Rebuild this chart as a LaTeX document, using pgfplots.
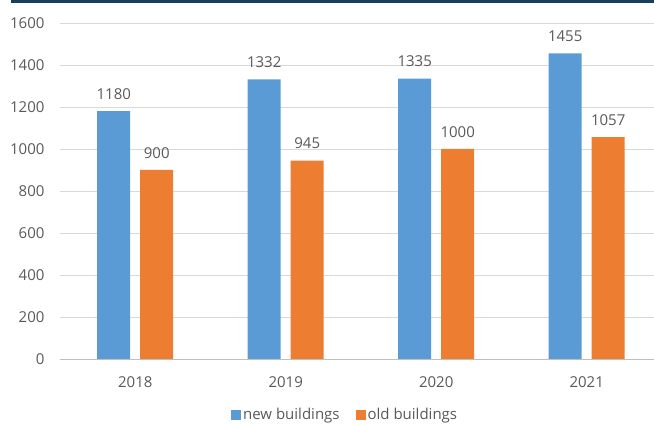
\documentclass[border=0pt]{standalone}
\usepackage{pgfplots}
\pgfplotsset{compat=1.18}
\usepackage{fontspec}
\setmainfont{Open Sans}
\definecolor{cblue}{HTML}{5B9BD5}
\definecolor{corange}{HTML}{ED7D31}
\definecolor{ctext}{HTML}{595959}
\definecolor{cgrid}{HTML}{D9D9D9}
\definecolor{cnavy}{HTML}{173F5F}
\begin{document}
\begin{tikzpicture}
\path[use as bounding box] (0,0) rectangle (654pt,426pt);
\fill[cnavy] (11pt,423pt) rectangle (654pt,426pt);
\begin{axis}[
  at={(60pt,67pt)}, anchor=south west,
  scale only axis, width=594pt, height=336pt,
  ybar=10pt, bar width=33pt,
  ymin=0, ymax=1600, ytick={0,200,...,1600},
  xmin=-0.5, xmax=3.447, xtick={0,1,2,3},
  xticklabels={2018,2019,2020,2021},
  ymajorgrids, grid style={cgrid, line width=0.9pt},
  axis line style={draw=none},
  major tick length=0pt,
  /pgf/number format/assume math mode=true,
  /pgf/number format/1000 sep={},
  ticklabel style={font=\fontsize{15}{17}\selectfont, text=ctext},
  yticklabel style={xshift=-12pt},
  xticklabel style={yshift=-14pt},
  nodes near coords,
  nodes near coords style={font=\fontsize{15}{17}\selectfont, text=ctext, yshift=8pt, /pgf/number format/assume math mode=true},
  legend columns=2,
  legend style={at={(0.48,-0.166)}, anchor=center, draw=none, fill=none,
    font=\fontsize{15}{17}\selectfont, text=ctext,
    /tikz/every even column/.append style={column sep=14pt}},
  legend image code/.code={\fill[#1] (0pt,-5pt) rectangle (10pt,5pt);},
  clip=false,
]
\addplot[fill=cblue, draw=none] coordinates {(0,1180) (1,1332) (2,1335) (3,1455)};
\addplot[fill=corange, draw=none] coordinates {(0,900) (1,945) (2,1000) (3,1057)};
\legend{new buildings, old buildings}
\draw[gray!50, line width=0.9pt] (rel axis cs:0,0) -- (rel axis cs:1,0);
\end{axis}
\end{tikzpicture}
\end{document}
